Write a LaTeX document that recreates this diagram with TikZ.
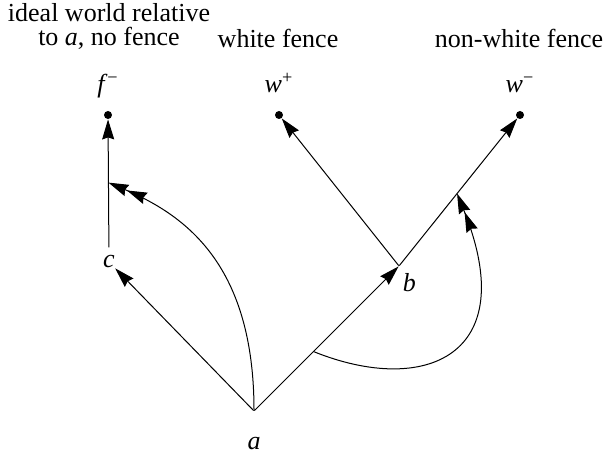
\documentclass[tikz,border=0pt]{standalone}
\usepackage{fontspec}
\setmainfont{Liberation Serif}
\usetikzlibrary{arrows.meta,positioning,calc}

\begin{document}
\begin{tikzpicture}[
    x=0.5pt, y=0.5pt,
    font=\fontsize{13}{12}\selectfont,
    vertex/.style={inner sep=0pt, minimum size=0pt},
    dot/.style={circle, fill, inner sep=0pt, minimum size=4pt},
    lbl/.style={inner sep=0pt},
    head/.style={align=center, inner sep=0pt},
    arrow/.style={-{Stealth[length=10pt,width=6pt,inset=1pt]}, line width=0.5pt},
    twocell/.style={-{Stealth[length=10pt,width=6pt,inset=1pt,sep=0pt]Stealth[length=10pt,width=6pt,inset=1pt]}, line width=0.5pt}
]
\useasboundingbox (0,0) rectangle (608,453);

% worlds
\node[vertex] (a) at (254,42) {};
\node[vertex] (b) at (399,187) {};
\node[lbl] (c) at (109,191) {\textit{c}};
\node[dot] (fm) at (108,338) {};
\node[dot] (wp) at (279,338) {};
\node[dot] (wm) at (520,338) {};

% labels
\node[lbl, below=12.5pt of a] (alab) {\textit{a}};
\node[lbl, below right=3.5pt and 1.5pt of b] (blab) {\textit{b}};
\node[lbl, above=9pt of fm, anchor=base] (fmlab) {\textit{f}\textsuperscript{−}};
\node[lbl, above=9pt of wp, anchor=base] (wplab) {\textit{w}\textsuperscript{+}};
\node[lbl, above=9pt of wm, anchor=base] (wmlab) {\textit{w}\textsuperscript{−}};

\node[head] (ideal) at (109,427) {ideal world relative\\to \textit{a}, no fence};
\node[head, anchor=base] (white) at (278,405) {white fence};
\node[head, anchor=base] (nonwhite) at (519,405) {non-white fence};

% accessibility
\draw[arrow] (a) -- (c);
\draw[arrow, shorten <=4pt] (c) -- (fm);
\draw[arrow] (a) -- (b);
\draw[arrow] (b) -- (wp);
\draw[arrow] (b) -- (wm);

% arcs between edges
\coordinate (cf) at ($(c)!0.54!(fm)$);
\coordinate (ab) at ($(a)!0.41!(b)$);
\coordinate (bw) at ($(b)!0.48!(wm)$);
\draw[twocell] (a) .. controls +(90:145) and +(-23:85) .. (cf);
\draw[twocell] (ab) .. controls +(-22:120) and +(-68:175) .. (bw);
\end{tikzpicture}
\end{document}
